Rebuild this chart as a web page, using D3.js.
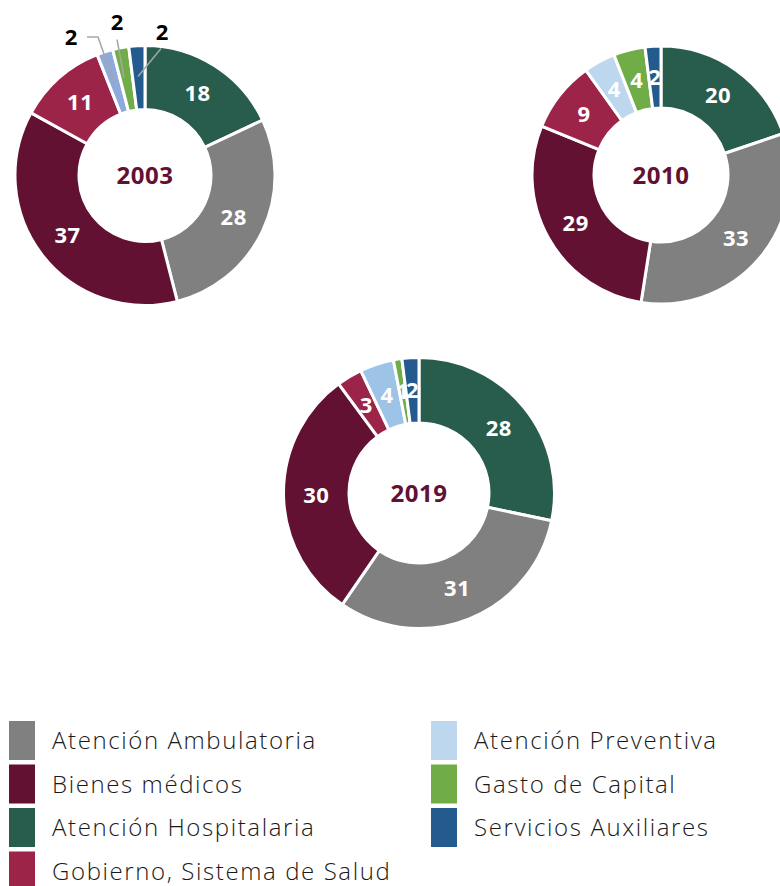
<!DOCTYPE html>
<html>
<head>
<meta charset="utf-8">
<script src="https://cdn.jsdelivr.net/npm/d3@7"></script>
<style>
  html, body { margin: 0; padding: 0; background: #fff; }
  svg { display: block; }
</style>
</head>
<body>
<svg id="chart" width="780" height="886"></svg>
<script>
    // Categories in the order the slices run (clockwise from the top)
    const categories = [
        "Atención Hospitalaria",
        "Atención Ambulatoria",
        "Bienes médicos",
        "Gobierno, Sistema de Salud",
        "Atención Preventiva",
        "Gasto de Capital",
        "Servicios Auxiliares"
    ];

    // Percent shares per year
    const years = ["2003", "2010", "2019"];
    const values2003 = [18, 28, 37, 11, 2, 2, 2];
    const values2010 = [20, 33, 29, 9, 4, 4, 2];
    const values2019 = [28, 31, 30, 3, 4, 1, 2];

    // Legend order (two columns)
    const legendCol1 = ["Atención Ambulatoria", "Bienes médicos", "Atención Hospitalaria", "Gobierno, Sistema de Salud"];
    const legendCol2 = ["Atención Preventiva", "Gasto de Capital", "Servicios Auxiliares"];

    const color = d3.scaleOrdinal()
        .domain(categories)
        .range(["#285c4d", "#808080", "#621132", "#9d2449", "#bdd7ee", "#70ad47", "#235b8e"]);

    // the preventive slice is drawn in a different blue in each year
    const preventiveColor = { "2003": "#8eaadb", "2010": "#bdd7ee", "2019": "#9dc3e6" };

    const svg = d3.select("#chart");

    const donuts = [
        { year: "2003", values: values2003, cx: 145, cy: 175.5, r0: 66, r1: 130, outsideLabels: true },
        { year: "2010", values: values2010, cx: 661, cy: 175, r0: 67, r1: 129, outsideLabels: false },
        { year: "2019", values: values2019, cx: 419, cy: 493, r0: 70, r1: 135.5, outsideLabels: false }
    ];

    const pie = d3.pie().sort(null).value(d => d.value);

    donuts.forEach(cfg => {
        const data = categories.map((c, i) => ({ cat: c, value: cfg.values[i] }));
        const arcs = pie(data);
        const arc = d3.arc().innerRadius(cfg.r0).outerRadius(cfg.r1);
        const mid = (cfg.r0 + cfg.r1) / 2;
        const labelArc = d3.arc().innerRadius(mid).outerRadius(mid);

        const g = svg.append("g")
            .attr("transform", `translate(${cfg.cx},${cfg.cy})`);

        g.selectAll("path")
          .data(arcs)
          .join("path")
            .attr("d", arc)
            .attr("fill", d => d.data.cat === "Atención Preventiva" ? preventiveColor[cfg.year] : color(d.data.cat))
            .attr("stroke", "#fff")
            .attr("stroke-width", 3)
            .attr("stroke-linejoin", "miter");

        // value labels
        const small = d => d.data.value <= 2;
        const inside = cfg.outsideLabels ? arcs.filter(d => !small(d)) : arcs;

        g.selectAll("text.val")
          .data(inside)
          .join("text")
            .attr("class", "val")
            .attr("transform", d => `translate(${labelArc.centroid(d)})`)
            .attr("text-anchor", "middle")
            .attr("dy", "0.36em")
            .attr("fill", "#fff")
            .attr("font-family", "'Open Sans', sans-serif")
            .attr("font-weight", 700)
            .attr("font-size", 22)
            .attr("letter-spacing", 0.5)
            .text(d => d.value);

        if (cfg.outsideLabels) {
            // small slices get black labels with grey leader lines
            const smalls = arcs.filter(small);
            const labelPos = [[-74, -138], [-28, -153], [17, -143]];
            const bends = [[-47, -138.5], null, null];
            const ends = [[-31, -93], [-21, -98], [-7, -99]];
            const lineStarts = [[-58, -138.5], [-28, -136], [16, -127]];

            smalls.forEach((d, i) => {
                const pts = [lineStarts[i]];
                if (bends[i]) pts.push(bends[i]);
                pts.push(ends[i]);
                g.append("path")
                    .attr("d", d3.line()(pts))
                    .attr("fill", "none")
                    .attr("stroke", "#a6a6a6")
                    .attr("stroke-width", 1.5);
                g.append("text")
                    .attr("x", labelPos[i][0])
                    .attr("y", labelPos[i][1])
                    .attr("text-anchor", "middle")
                    .attr("dy", "0.36em")
                    .attr("fill", "#000")
                    .attr("font-family", "'Open Sans', sans-serif")
                    .attr("font-weight", 700)
                    .attr("font-size", 22)
                    .text(d.value);
            });
        }

        // year in the middle
        g.append("text")
            .attr("text-anchor", "middle")
            .attr("dy", "0.36em")
            .attr("fill", "#621132")
            .attr("font-family", "'Open Sans', sans-serif")
            .attr("font-weight", 700)
            .attr("font-size", 24)
            .attr("letter-spacing", 0.5)
            .text(cfg.year);
    });

    // Legend
    const legend = svg.append("g");
    const rowStep = 43.5;
    const cols = [{ items: legendCol1, x: 9 }, { items: legendCol2, x: 431 }];

    cols.forEach(col => {
        const rows = legend.selectAll(null)
          .data(col.items)
          .join("g")
            .attr("transform", (d, i) => `translate(${col.x},${721 + i * rowStep})`);

        rows.append("rect")
            .attr("width", 26)
            .attr("height", 39)
            .attr("fill", d => color(d));

        rows.append("text")
            .attr("x", 43)
            .attr("y", 28)
            .attr("fill", "#1a1a1a")
            .attr("font-family", "'Open Sans', sans-serif")
            .attr("font-weight", 300)
            .attr("font-size", 24)
            .attr("letter-spacing", 1.6)
            .text(d => d);
    });
</script>
</body>
</html>
